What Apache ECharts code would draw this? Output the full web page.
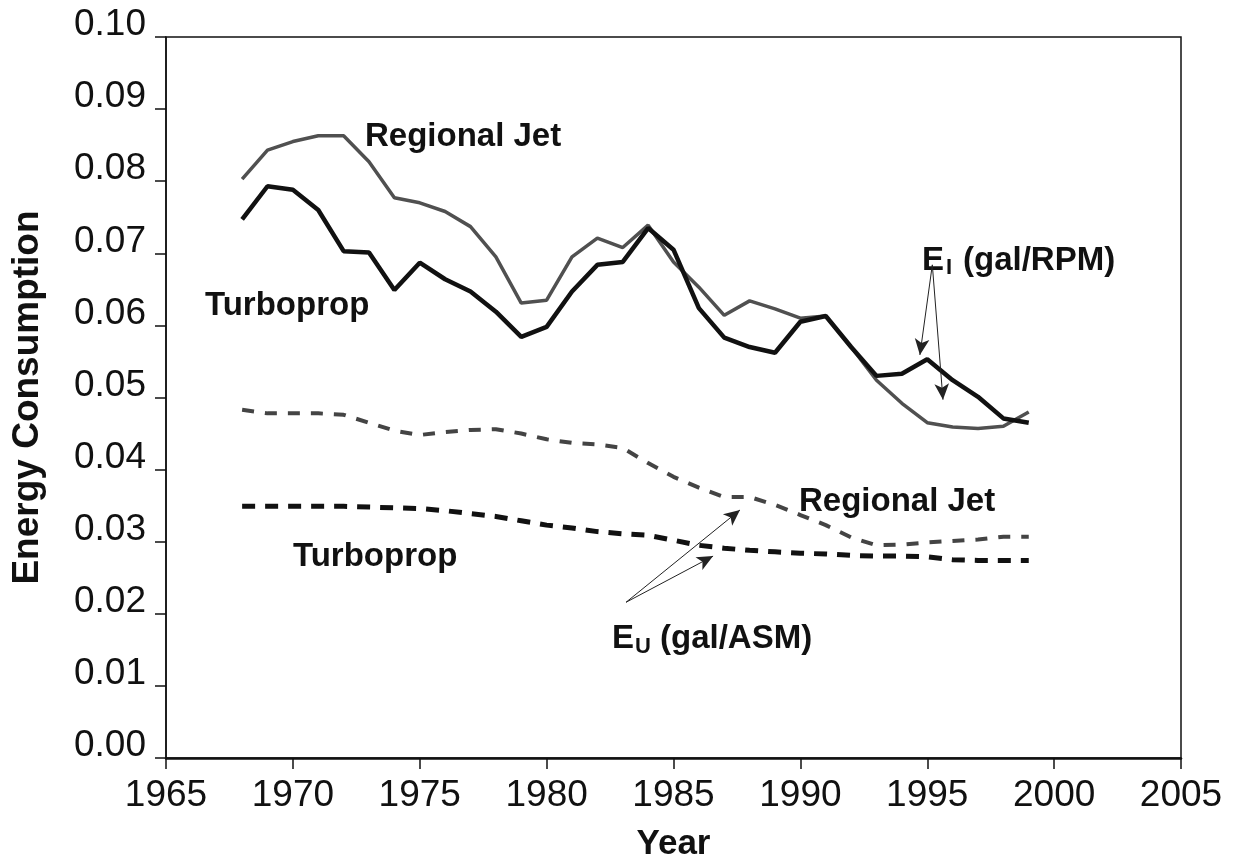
<!DOCTYPE html>
<html>
<head>
<meta charset="utf-8">
<script src="https://cdn.jsdelivr.net/npm/echarts@6/dist/echarts.min.js"></script>
<style>
  html, body { margin: 0; padding: 0; background: #fff; }
  #chart { width: 1233px; height: 859px; }
</style>
</head>
<body>
<div id="chart"></div>
<script>
// years
const years = [1968, 1969, 1970, 1971, 1972, 1973, 1974, 1975, 1976, 1977, 1978,
  1979, 1980, 1981, 1982, 1983, 1984, 1985, 1986, 1987, 1988, 1989, 1990, 1991,
  1992, 1993, 1994, 1995, 1996, 1997, 1998, 1999];

// E_I (gal/RPM)
const rjIntensity = [0.0803, 0.0843, 0.0855, 0.0863, 0.0863, 0.0827, 0.0777, 0.0770,
  0.0758, 0.0737, 0.0695, 0.0631, 0.0635, 0.0695, 0.0721, 0.0708, 0.0739, 0.0688,
  0.0653, 0.0614, 0.0634, 0.0623, 0.0610, 0.0613, 0.0570, 0.0524, 0.0492, 0.0465,
  0.0459, 0.0457, 0.0460, 0.0480];
const tpIntensity = [0.0747, 0.0793, 0.0788, 0.0760, 0.0703, 0.0701, 0.0649, 0.0687,
  0.0664, 0.0647, 0.0619, 0.0584, 0.0598, 0.0647, 0.0684, 0.0688, 0.0735, 0.0705,
  0.0624, 0.0583, 0.0570, 0.0562, 0.0605, 0.0613, 0.0570, 0.0530, 0.0533, 0.0553,
  0.0524, 0.0501, 0.0471, 0.0465];

// E_U (gal/ASM)
const rjUnit = [0.0483, 0.0478, 0.0478, 0.0478, 0.0476, 0.0465, 0.0454, 0.0448,
  0.0452, 0.0455, 0.0456, 0.0450, 0.0442, 0.0437, 0.0435, 0.0430, 0.0409, 0.0390,
  0.0375, 0.0362, 0.0362, 0.0351, 0.0337, 0.0323, 0.0306, 0.0295, 0.0296, 0.0299,
  0.0301, 0.0303, 0.0307, 0.0307];
const tpUnit = [0.0349, 0.0349, 0.0349, 0.0349, 0.0349, 0.0348, 0.0347, 0.0346,
  0.0343, 0.0339, 0.0335, 0.0329, 0.0323, 0.0319, 0.0314, 0.0311, 0.0309, 0.0302,
  0.0295, 0.0291, 0.0288, 0.0286, 0.0284, 0.0283, 0.0281, 0.0280, 0.0280, 0.0279,
  0.0275, 0.0274, 0.0274, 0.0274];

// annotation arrows, [from, to] in year / value
const arrowsEI = [
  [[1995.2, 0.0684], [1994.71, 0.0559]],
  [[1995.2, 0.0684], [1995.62, 0.0497]]
];
const arrowsEU = [
  [[1983.13, 0.0216], [1987.62, 0.0344]],
  [[1983.13, 0.0216], [1986.56, 0.0280]]
];

const font = 'Liberation Sans, Arial, Helvetica, sans-serif';
const pairs = arr => years.map((y, i) => [y, arr[i]]);

const arrowLines = arrowsEI.concat(arrowsEU).map(a => [{ coord: a[0] }, { coord: a[1] }]);

let myChart = echarts.init(document.getElementById('chart'));

function label(text, x, y, size) {
  return {
    type: 'text', left: x, top: y,
    style: { text: text, font: 'bold ' + size + 'px ' + font, fill: '#111', verticalAlign: 'middle' }
  };
}

myChart.setOption({
  animation: false,
  backgroundColor: '#fff',
  grid: {
    left: 166, right: 52, top: 37, bottom: 101,
    containLabel: false, outerBoundsMode: 'none',
    show: true, borderColor: '#111', borderWidth: 1.5
  },
  xAxis: {
    type: 'value', min: 1965, max: 2005, interval: 5,
    name: 'Year', nameLocation: 'middle', nameGap: 69,
    nameTextStyle: { fontFamily: font, fontWeight: 'bold', fontSize: 35, color: '#111' },
    axisLine: { lineStyle: { color: '#111', width: 2.5 } },
    axisTick: { length: 11, lineStyle: { color: '#111', width: 1.5 } },
    axisLabel: { fontFamily: font, fontSize: 37, color: '#111', margin: 19, formatter: v => String(v) },
    splitLine: { show: false }
  },
  yAxis: {
    type: 'value', min: 0, max: 0.1, interval: 0.01,
    name: 'Energy Consumption', nameLocation: 'middle', nameGap: 120,
    nameTextStyle: { fontFamily: font, fontWeight: 'bold', fontSize: 37, color: '#111' },
    axisLine: { lineStyle: { color: '#111', width: 1.5 } },
    axisTick: { length: 11, lineStyle: { color: '#111', width: 1.5 } },
    axisLabel: {
      fontFamily: font, fontSize: 37, color: '#111', margin: 20,
      verticalAlign: 'bottom', lineHeight: 24,
      formatter: v => v.toFixed(2)
    },
    splitLine: { show: false }
  },
  series: [
    {
      name: 'Regional Jet E_I', type: 'line', data: pairs(rjIntensity),
      showSymbol: false, lineStyle: { color: '#505050', width: 3.5 }
    },
    {
      name: 'Turboprop E_I', type: 'line', data: pairs(tpIntensity),
      showSymbol: false, lineStyle: { color: '#111', width: 4.5 }
    },
    {
      name: 'Regional Jet E_U', type: 'line', data: pairs(rjUnit),
      showSymbol: false, lineStyle: { color: '#444', width: 4, type: [12, 11] }
    },
    {
      name: 'Turboprop E_U', type: 'line', data: pairs(tpUnit),
      showSymbol: false, lineStyle: { color: '#111', width: 5, type: [13, 10] },
      markLine: {
        silent: true,
        symbol: ['none', 'arrow'],
        symbolSize: [11, 16],
        label: { show: false },
        lineStyle: { color: '#222', width: 1, type: 'solid' },
        data: arrowLines
      }
    }
  ],
  graphic: [
    label('Regional Jet', 365, 120, 33),
    label('Turboprop', 205, 289, 33),
    label('Regional Jet', 799, 485, 33),
    label('Turboprop', 293, 540, 33),
    label('E', 922, 244, 33),
    label('I', 946, 257, 22),
    label('(gal/RPM)', 963, 244, 33),
    label('E', 612, 622, 33),
    label('U', 635, 636, 22),
    label('(gal/ASM)', 660, 622, 33)
  ]
});
</script>
</body>
</html>
